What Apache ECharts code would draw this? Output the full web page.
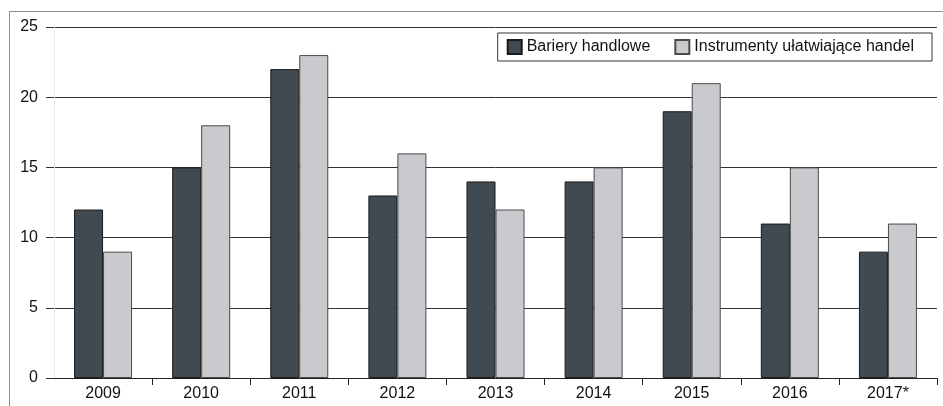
<!DOCTYPE html>
<html>
<head>
<meta charset="utf-8">
<script src="https://cdn.jsdelivr.net/npm/echarts@6/dist/echarts.min.js"></script>
<style>
  html, body { margin: 0; padding: 0; background: #fff; }
  #chart { width: 943px; height: 406px; }
</style>
</head>
<body>
<div id="chart"></div>
<script>
// Liczba barier handlowych i instrumentów ułatwiających handel w latach 2009–2017
const years = ['2009', '2010', '2011', '2012', '2013', '2014', '2015', '2016', '2017*'];
const barriers = [12, 15, 22, 13, 14, 14, 19, 11, 9];
const facilitation = [9, 18, 23, 16, 12, 15, 21, 15, 11];
const seriesNames = ['Bariery handlowe', 'Instrumenty ułatwiające handel'];

const font = '"Liberation Sans", Arial, sans-serif';
const fontSize = 16;
const chart = echarts.init(document.getElementById('chart'), null, { renderer: 'canvas' });

chart.setOption({
  animation: false,
  backgroundColor: '#ffffff',
  textStyle: { fontFamily: font },
  graphic: [{
    type: 'rect',
    shape: { x: 9.5, y: 11.5, width: 1000, height: 500 },
    style: { fill: 'none', stroke: '#8c8c8c', lineWidth: 1 },
    silent: true,
    z: -10
  }],
  grid: { left: 54, right: 6, top: 27, bottom: 28, containLabel: false },
  legend: {
    right: 11,
    top: 33,
    orient: 'horizontal',
    backgroundColor: '#ffffff',
    borderColor: '#333333',
    borderWidth: 1,
    borderRadius: 0,
    padding: [6, 18, 6, 9],
    itemGap: 24,
    itemWidth: 14,
    itemHeight: 14,
    icon: 'rect',
    textStyle: { fontFamily: font, fontSize: fontSize, lineHeight: 16, color: '#111' },
    data: seriesNames
  },
  xAxis: {
    type: 'category',
    data: years,
    axisLine: { lineStyle: { color: '#222', width: 1 } },
    axisTick: {
      show: true, length: 7, lineStyle: { color: '#222' },
      interval: function (index) { return index !== 0; }
    },
    axisLabel: { fontFamily: font, fontSize: fontSize, color: '#111', margin: 8 }
  },
  yAxis: {
    type: 'value',
    min: 0,
    max: 25,
    interval: 5,
    axisLine: { show: true, lineStyle: { color: '#ececec', width: 1 } },
    axisTick: { show: true, length: 8, lineStyle: { color: '#333' } },
    axisLabel: { fontFamily: font, fontSize: fontSize, color: '#111', margin: 16 },
    splitLine: { show: true, lineStyle: { color: '#333', width: 1 } }
  },
  series: [
    {
      name: seriesNames[0],
      type: 'bar',
      data: barriers,
      barWidth: 29,
      barGap: '0%',
      itemStyle: { color: '#414a51', borderColor: '#1a1a1a', borderWidth: 1 }
    },
    {
      name: seriesNames[1],
      type: 'bar',
      data: facilitation,
      barWidth: 29,
      barGap: '0%',
      itemStyle: { color: '#c9cacd', borderColor: '#4a4a4a', borderWidth: 1 }
    }
  ]
});
</script>
</body>
</html>
